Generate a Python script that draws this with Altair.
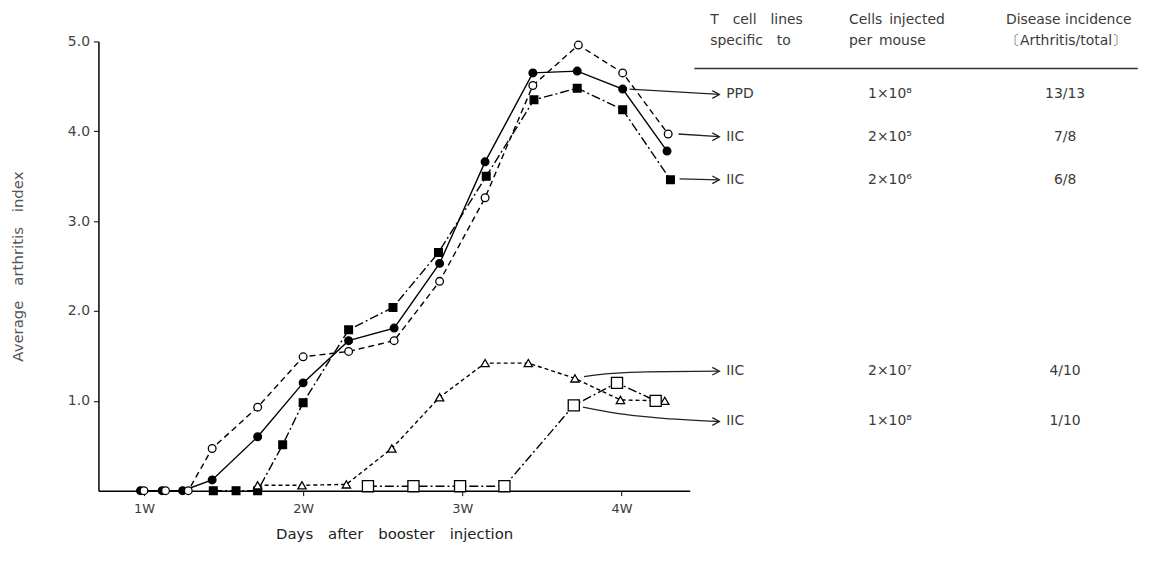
import altair as alt
import pandas as pd

# ---- data: days after booster injection vs. average arthritis index ----
ppd_days = [6.85, 7.8, 8.7, 10, 12, 14, 16, 18, 20, 22, 24.1, 26.05, 28.05, 30]
ppd_vals = [0, 0, 0, 0.12, 0.6, 1.2, 1.67, 1.81, 2.53, 3.66, 4.65, 4.67, 4.47, 3.78]

iic5_days = [7.0, 7.95, 8.95, 10, 12, 14, 16, 18, 20, 22, 24.1, 26.1, 28.05, 30.05]
iic5_vals = [0, 0, 0, 0.47, 0.93, 1.49, 1.55, 1.67, 2.33, 3.26, 4.51, 4.96, 4.65, 3.97]

iic6_days = [10.05, 11.05, 12.0, 13.1, 14.0, 16.0, 17.95, 19.95, 22.05, 24.15, 26.05, 28.05, 30.15]
iic6_vals = [0, 0, 0, 0.51, 0.98, 1.79, 2.04, 2.65, 3.5, 4.35, 4.48, 4.24, 3.46]

iic7_days = [12.0, 13.95, 15.9, 17.9, 20.0, 22.0, 23.9, 25.95, 27.95, 29.9]
iic7_vals = [0.06, 0.06, 0.07, 0.47, 1.04, 1.42, 1.42, 1.25, 1.01, 1.0]

iic8_days = [16.85, 18.85, 20.9, 22.85, 25.9, 27.8, 29.5]
iic8_vals = [0.05, 0.05, 0.05, 0.05, 0.95, 1.2, 1.0]

# ---- table texts ----
header_1 = ["T\u2003cell\u2003lines", "Cells\u2002injected", "Disease incidence"]
header_2 = ["specific\u2003to", "per\u2002mouse", "〔Arthritis/total〕"]
table_specificity = ["PPD", "IIC", "IIC", "IIC", "IIC"]
table_cells = ["1×10⁸", "2×10⁵", "2×10⁶", "2×10⁷", "1×10⁸"]
table_incidence = ["13/13", "7/8", "6/8", "4/10", "1/10"]

week_ticks = [7, 14, 21, 28]
y_ticks = [1, 2, 3, 4, 5]

# ---- layout (in data units of the chart's scales) ----
row_y = [4.41, 3.94, 3.46, 1.33, 0.77]
head_y = [5.24, 5.0]
head_x = [31.9, 38.0, 44.9]
label_x = 32.6
cells_x = 39.8
inc_x = 47.5
arrow_tip = 32.3
arrow_paths = [
    [(28.35, 4.47), (arrow_tip, 4.41)],
    [(30.5, 3.97), (arrow_tip, 3.94)],
    [(30.55, 3.47), (arrow_tip, 3.46)],
    [(26.35, 1.27), (27.3, 1.30), (28.8, 1.32), (arrow_tip, 1.33)],
    [(26.3, 0.93), (27.8, 0.86), (29.6, 0.81), (arrow_tip, 0.77)],
]

FONT = "DejaVu Sans"
TXT = "#3a3a3a"

xs = alt.Scale(domain=[5, 31], nice=False, zero=False)
ys = alt.Scale(domain=[0, 5], nice=False, zero=False)

x_axis = alt.Axis(values=week_ticks, labelExpr="floor(datum.value / 7) + 'W'",
                  title="Days\u2003after\u2003booster\u2003injection", grid=False,
                  tickSize=5, tickColor="black", domainColor="black", domainWidth=1.5,
                  labelPadding=7, labelFontSize=13, labelColor=TXT, labelFont=FONT,
                  titlePadding=11, titleFontSize=15, titleFontWeight="normal",
                  titleColor="#222222", titleFont=FONT)
y_axis = alt.Axis(values=y_ticks, format=".1f",
                  title="Average\u2003arthritis\u2003index", grid=False,
                  tickSize=5, tickColor="black", domainColor="black", domainWidth=1.5,
                  labelPadding=4, labelFontSize=14, labelColor="#444444", labelFont=FONT,
                  titleX=-73, titleFontSize=15, titleFontWeight="normal",
                  titleColor="#555555", titleFont=FONT)


def X():
    return alt.X("day:Q", scale=xs, axis=x_axis)


def Y():
    return alt.Y("val:Q", scale=ys, axis=y_axis)


def series(days, vals, dash, shape, filled, size, sw_line=1.4, sw_pt=1.3):
    df = pd.DataFrame({"day": days, "val": vals})
    base = alt.Chart(df).encode(x=X(), y=Y())
    line_kwargs = dict(color="black", strokeWidth=sw_line)
    if dash:
        line_kwargs["strokeDash"] = dash
    line = base.mark_line(**line_kwargs)
    pts = base.mark_point(shape=shape, size=size, filled=True,
                          fill="black" if filled else "white",
                          stroke="black", strokeWidth=sw_pt, opacity=1)
    return line, pts


layers_lines = []
layers_pts = []
for args in [
    (ppd_days, ppd_vals, None, "circle", True, 60),
    (iic5_days, iic5_vals, [6, 4], "circle", False, 60),
    (iic6_days, iic6_vals, [9, 3, 2, 3], "square", True, 60),
    (iic7_days, iic7_vals, [4, 3], "triangle-up", False, 70),
    (iic8_days, iic8_vals, [9, 3, 2, 3], "square", False, 125),
]:
    l, p = series(*args)
    layers_lines.append(l)
    layers_pts.append(p)

# arrows
arrow_rows = []
for i, path in enumerate(arrow_paths):
    for d, v in path:
        arrow_rows.append({"day": d, "val": v, "row": i})
arrow_df = pd.DataFrame(arrow_rows)
arrow_lines = alt.Chart(arrow_df).mark_line(color="#222222", strokeWidth=1.3,
                                            interpolate="monotone").encode(
    x=X(), y=Y(), detail="row:N")
tips_df = pd.DataFrame({"day": [p[-1][0] for p in arrow_paths],
                        "val": [p[-1][1] for p in arrow_paths]})
arrow_heads = alt.Chart(tips_df).mark_point(
    shape="M-1,-0.55L0,0L-1,0.55", size=200, filled=False,
    stroke="#222222", strokeWidth=1.3, opacity=1).encode(x=X(), y=Y())

# table header
hdr_df = pd.DataFrame({
    "day": head_x * 2,
    "val": [head_y[0]] * 3 + [head_y[1]] * 3,
    "label": header_1 + header_2,
})
hdr = alt.Chart(hdr_df).mark_text(align="left", baseline="middle", font=FONT,
                                  fontSize=14, color=TXT).encode(
    x=X(), y=Y(), text="label:N")

rule_df = pd.DataFrame({"day": [31.2], "day2": [50.7], "val": [4.70]})
rule = alt.Chart(rule_df).mark_rule(color="#333333", strokeWidth=1.5).encode(
    x=X(), x2="day2:Q", y=Y())

spec_df = pd.DataFrame({"day": [label_x] * 5, "val": row_y, "label": table_specificity})
spec = alt.Chart(spec_df).mark_text(align="left", baseline="middle", font=FONT,
                                    fontSize=14, color=TXT).encode(
    x=X(), y=Y(), text="label:N")
cells_df = pd.DataFrame({"day": [cells_x] * 5, "val": row_y, "label": table_cells})
cells = alt.Chart(cells_df).mark_text(align="center", baseline="middle", font=FONT,
                                      fontSize=14, color=TXT).encode(
    x=X(), y=Y(), text="label:N")
inc_df = pd.DataFrame({"day": [inc_x] * 5, "val": row_y, "label": table_incidence})
inc = alt.Chart(inc_df).mark_text(align="center", baseline="middle", font=FONT,
                                  fontSize=14, color=TXT).encode(
    x=X(), y=Y(), text="label:N")

chart = alt.layer(
    *layers_lines, arrow_lines, arrow_heads, *layers_pts, hdr, rule, spec, cells, inc
).properties(
    width=595, height=452,
    padding={"left": 3, "top": 3, "right": 2, "bottom": 5},
).configure(font=FONT).configure_view(stroke="transparent", strokeWidth=0)

chart.save("out.html", embed_options={"renderer": "svg", "actions": False})
